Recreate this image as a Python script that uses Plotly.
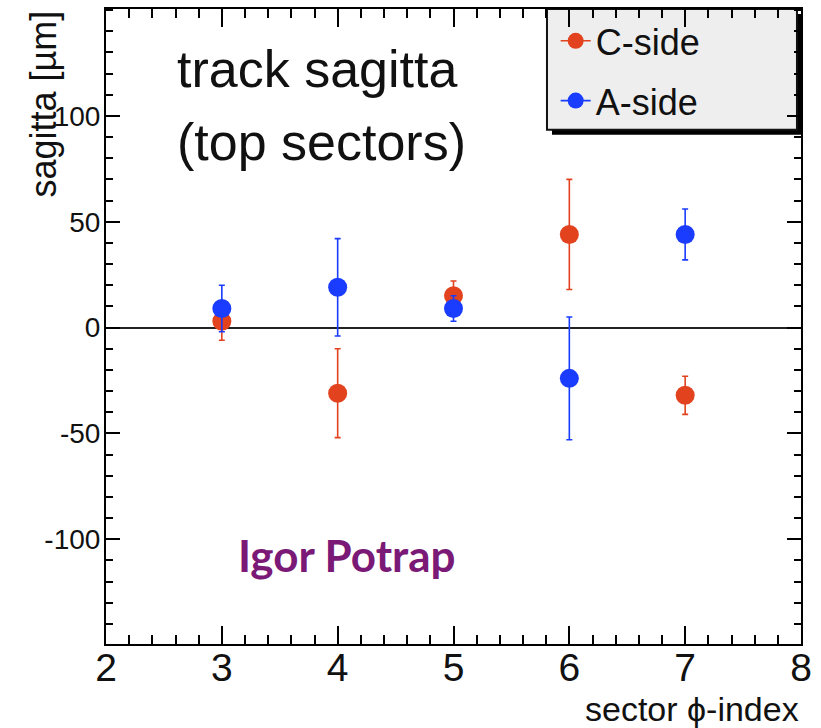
import plotly.graph_objects as go

sectors = [3, 4, 5, 6, 7]
c_side = [3, -31, 15, 44, -32]
c_err = [9, 21, 7, 26, 9]
a_side = [9, 19, 9, -24, 44]
a_err = [11, 23, 6, 29, 12]

y_ticks = [-100, -50, 0, 50, 100]
y_tick_text = ["-100", "-50", "0", "50", "100"]
x_ticks = [2, 3, 4, 5, 6, 7, 8]

RED = "#e2431e"
BLUE = "#1a3cff"
FONT = "Liberation Sans, Arial, Helvetica, sans-serif"

fig = go.Figure()
fig.add_trace(go.Scatter(x=sectors, y=c_side, mode="markers", showlegend=False,
                         marker=dict(color=RED, size=19),
                         error_y=dict(type="data", array=c_err, color=RED, thickness=1.6, width=3)))
fig.add_trace(go.Scatter(x=sectors, y=a_side, mode="markers", showlegend=False,
                         marker=dict(color=BLUE, size=19),
                         error_y=dict(type="data", array=a_err, color=BLUE, thickness=1.6, width=3)))
# legend entries
fig.add_trace(go.Scatter(x=[None], y=[None], mode="lines+markers", name="C-side", legendgroup="c",
                         line=dict(color=RED, width=1.6), marker=dict(color=RED, size=19)))
fig.add_trace(go.Scatter(x=[None], y=[None], mode="lines+markers", name="A-side", legendgroup="a",
                         line=dict(color=BLUE, width=1.6), marker=dict(color=BLUE, size=19)))

fig.update_xaxes(range=[2, 8], tickvals=x_ticks, showgrid=False, zeroline=False,
                 showline=True, linecolor="black", linewidth=2, mirror="ticks",
                 ticks="inside", ticklen=18, tickwidth=1.5, tickcolor="black",
                 minor=dict(dtick=0.2, ticks="inside", ticklen=9, tickwidth=1.5, tickcolor="black"),
                 tickfont=dict(family=FONT, size=39, color="#111"), ticklabelstandoff=-12)
fig.update_yaxes(range=[-149.5, 150.5], tickvals=y_ticks, ticktext=y_tick_text, showgrid=False,
                 zeroline=True, zerolinecolor="#222", zerolinewidth=2,
                 showline=True, linecolor="black", linewidth=2, mirror="ticks",
                 ticks="inside", ticklen=14, tickwidth=1.5, tickcolor="black",
                 minor=dict(tick0=0, dtick=10, ticks="inside", ticklen=7, tickwidth=1.5, tickcolor="black"),
                 tickfont=dict(family=FONT, size=28, color="#111"), ticklabelstandoff=-2)

annotations = [
    dict(text="track sagitta", x=0.099, y=0.905, xref="paper", yref="paper",
         xanchor="left", yanchor="middle", showarrow=False,
         font=dict(family=FONT, size=52, color="#111")),
    dict(text="(top sectors)", x=0.099, y=0.79, xref="paper", yref="paper",
         xanchor="left", yanchor="middle", showarrow=False,
         font=dict(family=FONT, size=52, color="#111")),
    dict(text="Igor Potrap", x=0.187, y=0.14, xref="paper", yref="paper",
         xanchor="left", yanchor="middle", showarrow=False,
         font=dict(family="Lato, Open Sans, sans-serif", size=44, color="#7b1976", weight="bold")),
    dict(text="sector ϕ-index", x=1.0, y=-0.102, xref="paper", yref="paper",
         xanchor="right", yanchor="middle", showarrow=False,
         font=dict(family=FONT, size=34, color="#111")),
    dict(text="sagitta [µm]", x=-0.0906, y=1.0, xref="paper", yref="paper",
         xanchor="center", yanchor="top", showarrow=False, textangle=-90,
         font=dict(family=FONT, size=36, color="#111")),
]

fig.update_layout(
    width=821, height=728,
    margin=dict(l=106, r=20, t=7, b=84),
    plot_bgcolor="rgba(0,0,0,0)", paper_bgcolor="white",
    annotations=annotations,
    legend=dict(x=0.647, y=0.997, xanchor="left", yanchor="top",
                bgcolor="rgba(0,0,0,0)", borderwidth=0,
                font=dict(family=FONT, size=36, color="#111"),
                tracegroupgap=10),
    shapes=[
        dict(type="rect", xref="paper", yref="paper", x0=0.6417, x1=1.0029, y0=0.802, y1=0.992,
             fillcolor="black", line=dict(width=0), layer="below"),
        dict(type="rect", xref="paper", yref="paper", x0=0.6345, x1=0.9942, y0=0.810, y1=1.0,
             fillcolor="#eeeeee", line=dict(color="#111", width=2), layer="below"),
    ],
)

fig.write_html("out.html")
